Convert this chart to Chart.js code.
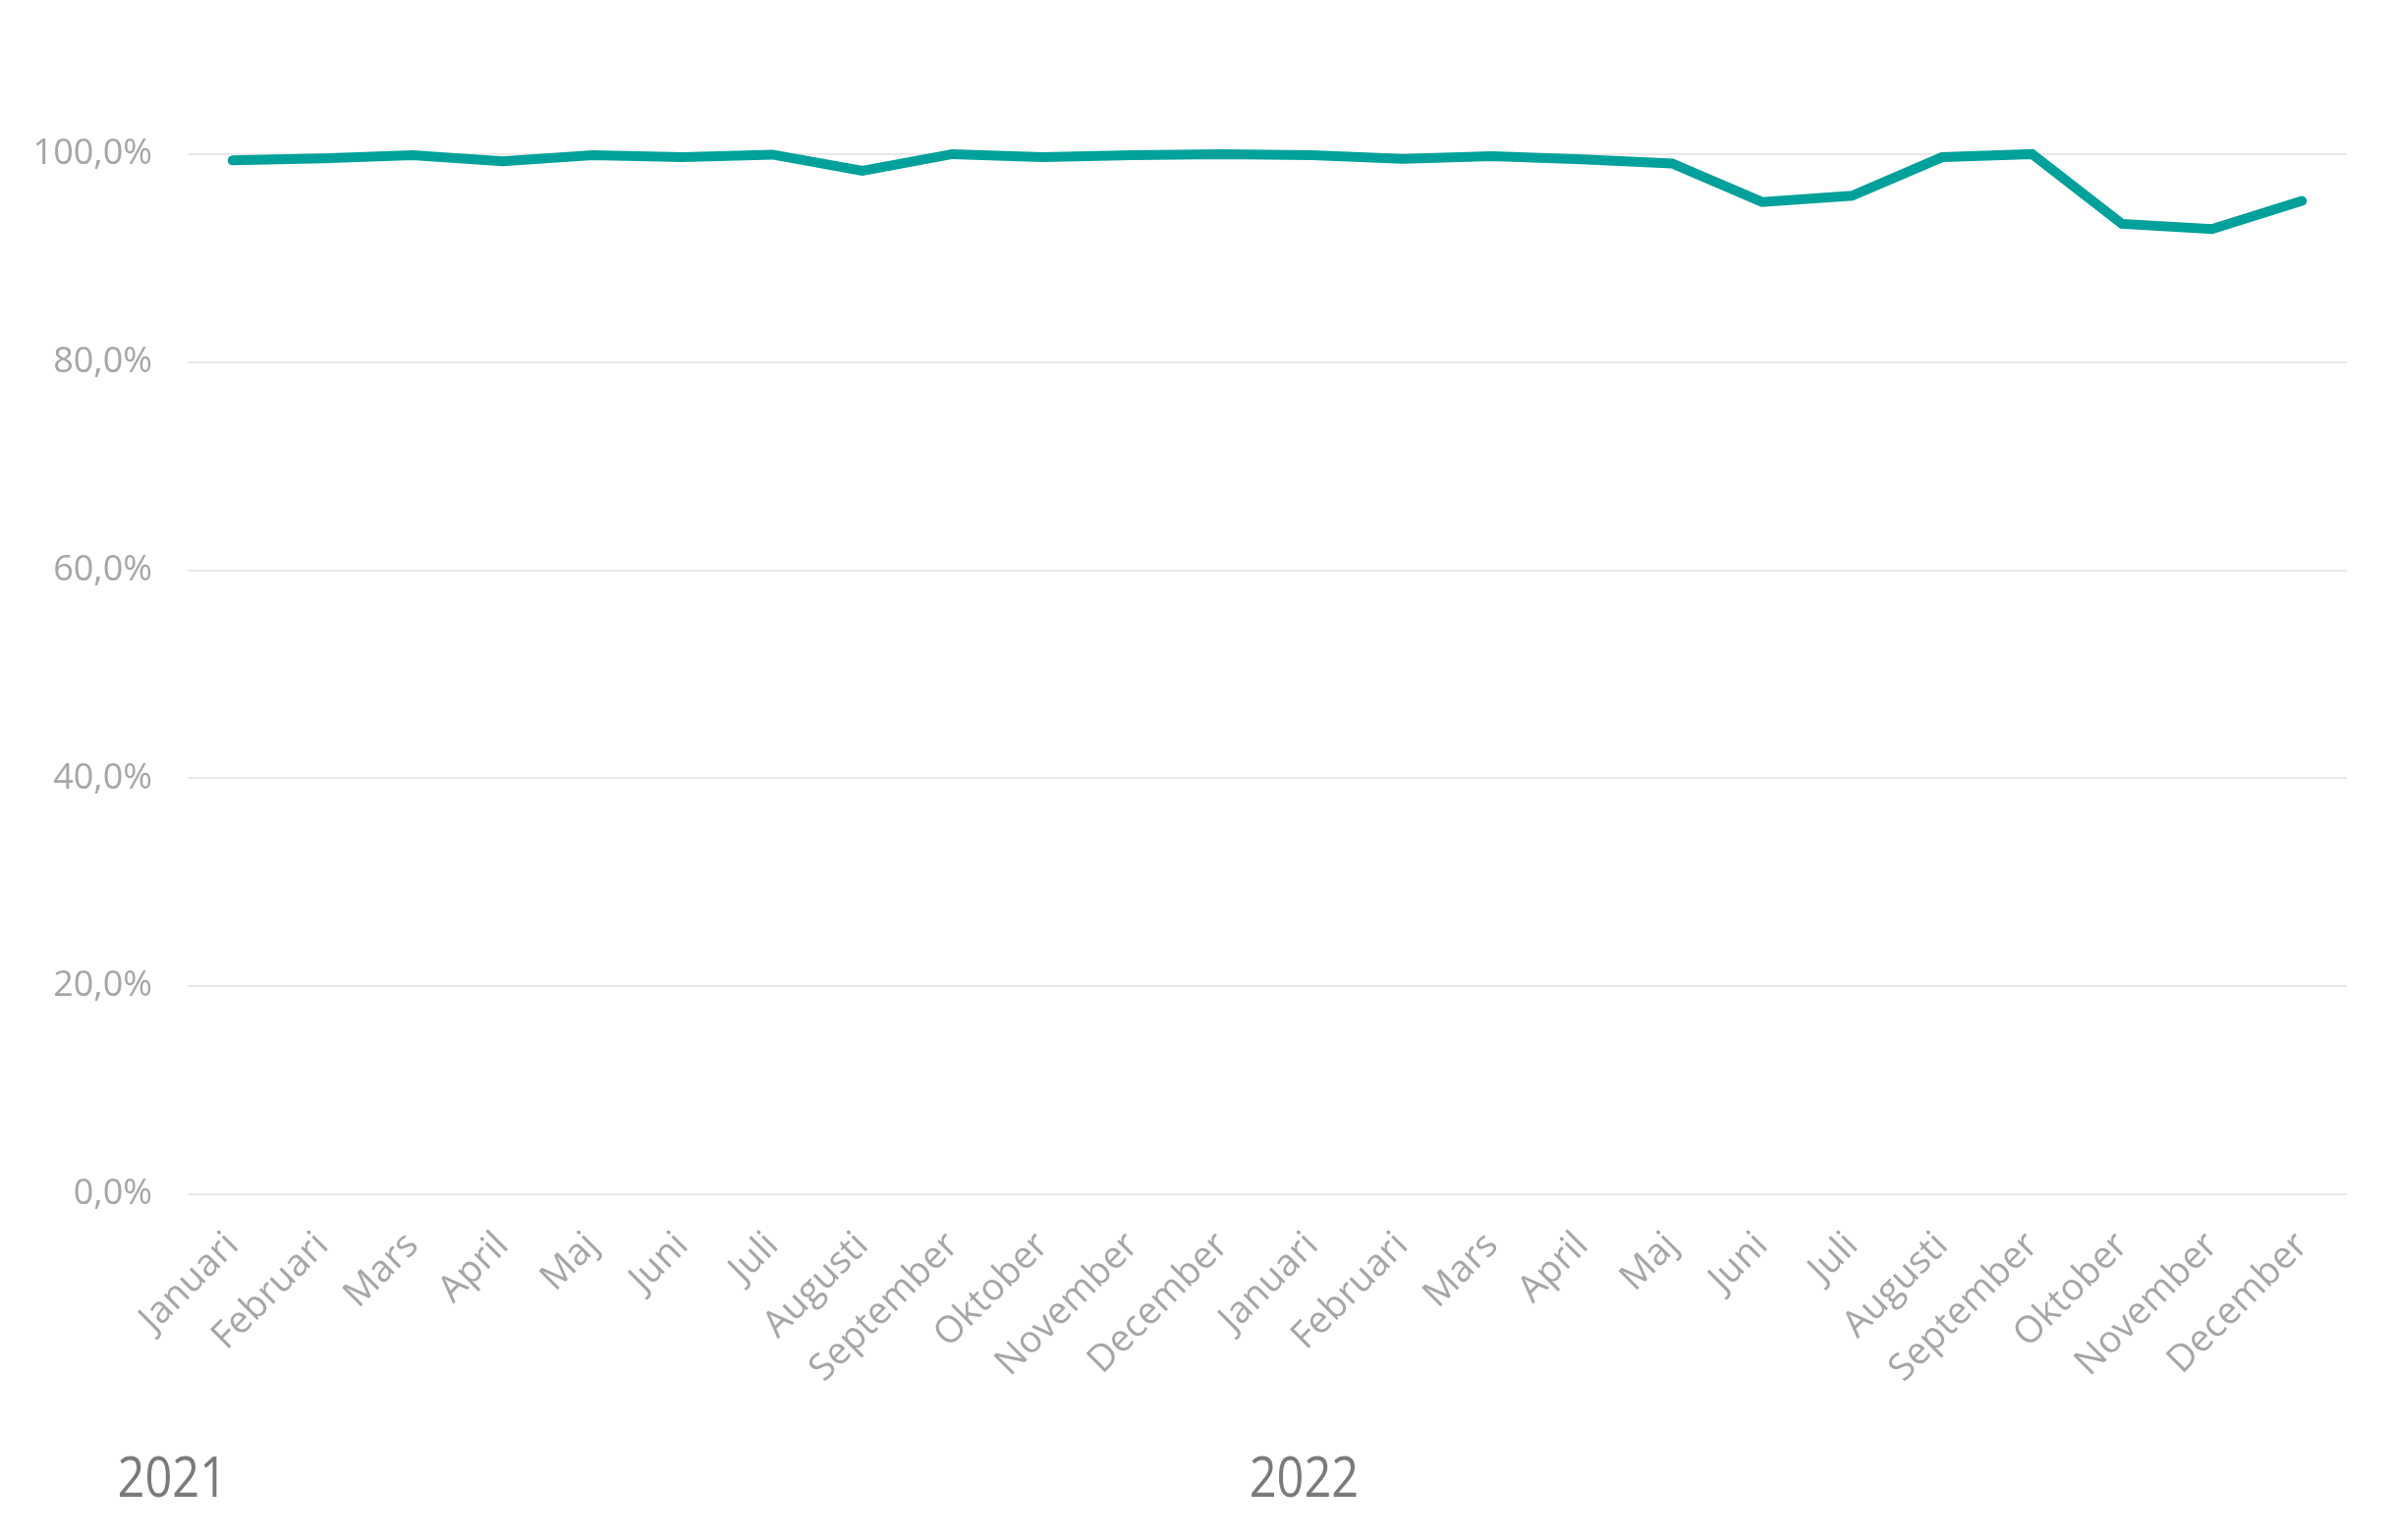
<!DOCTYPE html>
<html>
<head>
<meta charset="utf-8">
<script src="https://cdn.jsdelivr.net/npm/chart.js@4.4.1/dist/chart.umd.min.js"></script>
<style>
    html, body { margin: 0; padding: 0; background: #fff; }
    #wrap { width: 2440px; height: 1568px; }
</style>
</head>
<body>
<div id="wrap"><canvas id="chart" width="2440" height="1568"></canvas></div>
<script>
    const MONTHS = ['Januari', 'Februari', 'Mars', 'April', 'Maj', 'Juni', 'Juli', 'Augusti',
        'September', 'Oktober', 'November', 'December'];
    const LABELS = MONTHS.concat(MONTHS);
    const VALUES_2021 = [99.4, 99.6, 99.9, 99.3, 99.9, 99.7, 99.95, 98.4, 100, 99.7, 99.9, 100];
    const VALUES_2022 = [99.9, 99.55, 99.8, 99.5, 99.1, 95.4, 96.0, 99.7, 100, 93.3, 92.8, 95.5];
    const Y_TICKS = [0, 20, 40, 60, 80, 100];
    const YEARS = ['2021', '2022'];
    const YEAR_AT = [-1.28, 11.3];   // category position of each year's left edge

    const TEAL = '#00a19a';
    const TICK_GREY = '#a6a6a6';
    const GRID_GREY = '#e8e8e8';

    // year labels below the month labels
    const yearLabels = {
        id: 'yearLabels',
        afterDraw(chart) {
            const ctx = chart.ctx;
            const x = chart.scales.x;
            const base = chart.chartArea.bottom + 308;
            ctx.save();
            ctx.font = '56px "Open Sans"';
            ctx.fillStyle = '#7a7a7a';
            ctx.textAlign = 'left';
            ctx.textBaseline = 'alphabetic';
            YEARS.forEach((t, i) => {
                const px = x.getPixelForValue(YEAR_AT[i]);
                ctx.save();
                ctx.translate(px, base);
                ctx.scale(0.87, 1);
                ctx.fillText(t, 0, 0);
                ctx.restore();
            });
            ctx.restore();
        }
    };

    new Chart(document.getElementById('chart'), {
        type: 'line',
        data: {
            labels: LABELS,
            datasets: [{
                data: VALUES_2021.concat(VALUES_2022),
                borderColor: TEAL,
                borderWidth: 10,
                borderCapStyle: 'round',
                pointRadius: 0,
                tension: 0,
                fill: false
            }]
        },
        options: {
            responsive: false,
            animation: false,
            devicePixelRatio: 1,
            layout: { padding: { top: 51, right: 51, left: 0, bottom: 0 } },
            plugins: { legend: { display: false }, tooltip: { enabled: false } },
            scales: {
                x: {
                    offset: true,
                    grid: { display: false, offset: true },
                    border: { display: false },
                    afterFit(scale) { scale.height = 352; scale.paddingLeft = 0; scale.paddingRight = 0; },
                    ticks: {
                        autoSkip: false,
                        maxRotation: 45,
                        minRotation: 45,
                        padding: 22,
                        color: TICK_GREY,
                        font: { family: '"Open Sans"', size: 38 }
                    }
                },
                y: {
                    min: 0,
                    max: 110,
                    afterFit(scale) { scale.width = 191; scale.paddingTop = 0; scale.paddingBottom = 0; },
                    afterBuildTicks(scale) { scale.ticks = Y_TICKS.map(v => ({ value: v })); },
                    grid: { color: GRID_GREY, lineWidth: 2, drawTicks: false },
                    border: { display: false },
                    ticks: {
                        padding: 36,
                        color: TICK_GREY,
                        font: { family: '"Open Sans"', size: 36 },
                        callback: v => v.toFixed(1).replace('.', ',') + '%'
                    }
                }
            }
        },
        plugins: [yearLabels]
    });
</script>
</body>
</html>
